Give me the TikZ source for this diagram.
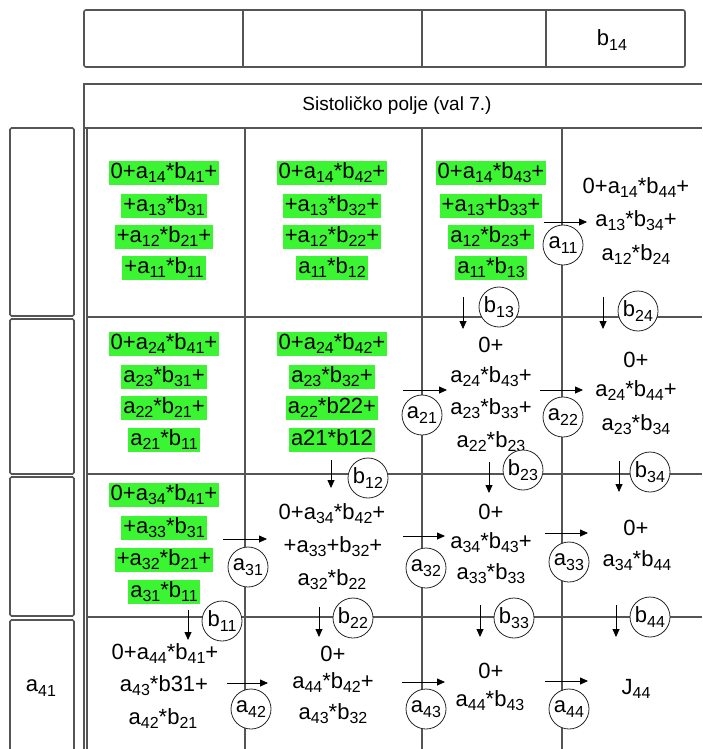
\documentclass[tikz,border=0pt]{standalone}
\usepackage{fontspec}
\setmainfont{Liberation Sans}
\usetikzlibrary{arrows.meta}
\definecolor{hl}{RGB}{60,245,50}
\definecolor{gl}{RGB}{85,85,85}
\newcommand\ix[1]{\raisebox{-0.2em}{\fontsize{16}{16}\selectfont #1}}
\begin{document}
\begin{tikzpicture}[x=1pt,y=-1pt,
 every node/.style={font=\fontsize{22}{24}\selectfont},
 txt/.style={inner xsep=2pt, inner ysep=1.5pt, text height=15.5pt, text depth=5pt},
 hl/.style={txt, fill=hl},
 pe/.style={circle, draw=black!85, fill=white, line width=0.8pt, minimum size=40pt, inner sep=0pt},
 grid/.style={draw=gl, line width=1.6pt},
 arr/.style={-{Triangle[length=8pt,width=7pt]}, line width=0.8pt, black}]
\useasboundingbox (0,0) rectangle (702,749);
% top box
\draw[grid, rounded corners=2pt] (84,10) rectangle (685,67);
\draw[grid] (243,10) -- (243,67) (422,10) -- (422,67) (546,10) -- (546,67);
\node (b14) at (612,40) {b\ix{14}};
% left boxes
\draw[grid, rounded corners=1.5pt] (10,128) rectangle (74,316);
\draw[grid, rounded corners=1.5pt] (10,319) rectangle (74,474);
\draw[grid, rounded corners=1.5pt] (10,477) rectangle (74,616);
\draw[grid, rounded corners=1.5pt] (74,752) -- (74,620) -- (10,620) -- (10,752);
\node (a41) at (41,688) {a\ix{41}};
% systolic array frame
\draw[grid] (702,84) -- (84,84) -- (84,752);
\draw[grid] (87,128) -- (87,752);
\draw[grid] (84,128) -- (702,128);
\foreach \yy in {317,474,617} \draw[grid] (87,\yy) -- (702,\yy);
\foreach \xx in {245,422,562} \draw[grid] (\xx,128) -- (\xx,752);
\node[font=\fontsize{19}{22}\selectfont] (title) at (397,106) {Sistoličko polje (val 7.)};
% row 1
\node[hl] (c11a) at (164,173) {0+a\ix{14}*b\ix{41}+};
\node[hl] (c11b) at (164,206) {+a\ix{13}*b\ix{31}};
\node[hl] (c11c) at (164,237) {+a\ix{12}*b\ix{21}+};
\node[hl] (c11d) at (164,268) {+a\ix{11}*b\ix{11}};
\node[hl] (c12a) at (332,173) {0+a\ix{14}*b\ix{42}+};
\node[hl] (c12b) at (332,206) {+a\ix{13}*b\ix{32}+};
\node[hl] (c12c) at (332,237) {+a\ix{12}*b\ix{22}+};
\node[hl] (c12d) at (332,268) {a\ix{11}*b\ix{12}};
\node[hl] (c13a) at (491,173) {0+a\ix{14}*b\ix{43}+};
\node[hl] (c13b) at (491,206) {+a\ix{13}+b\ix{33}+};
\node[hl] (c13c) at (491,237) {a\ix{12}*b\ix{23}+};
\node[hl] (c13d) at (491,268) {a\ix{11}*b\ix{13}};
\node[txt] (c14a) at (636,188) {0+a\ix{14}*b\ix{44}+};
\node[txt] (c14b) at (636,221) {a\ix{13}*b\ix{34}+};
\node[txt] (c14c) at (636,255) {a\ix{12}*b\ix{24}};
% row 2
\node[hl] (c21a) at (164,344) {0+a\ix{24}*b\ix{41}+};
\node[hl] (c21b) at (164,377) {a\ix{23}*b\ix{31}+};
\node[hl] (c21c) at (164,408) {a\ix{22}*b\ix{21}+};
\node[hl] (c21d) at (164,440) {a\ix{21}*b\ix{11}};
\node[hl] (c22a) at (332,344) {0+a\ix{24}*b\ix{42}+};
\node[hl] (c22b) at (332,377) {a\ix{23}*b\ix{32}+};
\node[hl] (c22c) at (332,408) {a\ix{22}*b22+};
\node[hl] (c22d) at (332,440) {a21*b12};
\node[txt] (c23a) at (491,347) {0+};
\node[txt] (c23b) at (491,377) {a\ix{24}*b\ix{43}+};
\node[txt] (c23c) at (491,409) {a\ix{23}*b\ix{33}+};
\node[txt] (c23d) at (491,442) {a\ix{22}*b\ix{23}};
\node[txt] (c24a) at (636,362) {0+};
\node[txt] (c24b) at (636,391) {a\ix{24}*b\ix{44}+};
\node[txt] (c24c) at (636,425) {a\ix{23}*b\ix{34}};
% row 3
\node[hl] (c31a) at (164,495) {0+a\ix{34}*b\ix{41}+};
\node[hl] (c31b) at (164,528) {+a\ix{33}*b\ix{31}};
\node[hl] (c31c) at (164,560) {+a\ix{32}*b\ix{21}+};
\node[hl] (c31d) at (164,592) {a\ix{31}*b\ix{11}};
\node[txt] (c32a) at (332,514) {0+a\ix{34}*b\ix{42}+};
\node[txt] (c32b) at (333,547) {+a\ix{33}+b\ix{32}+};
\node[txt] (c32c) at (332,580) {a\ix{32}*b\ix{22}};
\node[txt] (c33a) at (491,514) {0+};
\node[txt] (c33b) at (491,543) {a\ix{34}*b\ix{43}+};
\node[txt] (c33c) at (491,574) {a\ix{33}*b\ix{33}};
\node[txt] (c34a) at (636,530) {0+};
\node[txt] (c34b) at (637,561) {a\ix{34}*b\ix{44}};
% row 4
\node[txt] (c41a) at (165,654) {0+a\ix{44}*b\ix{41}+};
\node[txt] (c41b) at (164,686) {a\ix{43}*b31+};
\node[txt] (c41c) at (163,719) {a\ix{42}*b\ix{21}};
\node[txt] (c42a) at (333,656) {0+};
\node[txt] (c42b) at (333,683) {a\ix{44}*b\ix{42}+};
\node[txt] (c42c) at (333,714) {a\ix{43}*b\ix{32}};
\node[txt] (c43a) at (491,673) {0+};
\node[txt] (c43b) at (490,701) {a\ix{44}*b\ix{43}};
\node[txt] (c44a) at (636,689) {J\ix{44}};
% a circles (moving right)
\node[pe] (a11) at (563,245) {a\ix{11}};
\node[pe] (a21) at (422,415) {a\ix{21}};
\node[pe] (a22) at (563,417) {a\ix{22}};
\node[pe] (a31) at (248,567) {a\ix{31}};
\node[pe] (a32) at (426,568) {a\ix{32}};
\node[pe] (a33) at (569,562) {a\ix{33}};
\node[pe] (a42) at (251,709) {a\ix{42}};
\node[pe] (a43) at (426,709) {a\ix{43}};
\node[pe] (a44) at (569,709) {a\ix{44}};
\draw[arr] ([shift={(-19,-23)}]a11.center) -- ([shift={(24,-23)}]a11.center);
\draw[arr] ([shift={(-19,-25)}]a21.center) -- ([shift={(25,-25)}]a21.center);
\draw[arr] ([shift={(-23,-27)}]a22.center) -- ([shift={(20,-27)}]a22.center);
\draw[arr] ([shift={(-25,-28)}]a31.center) -- ([shift={(19,-28)}]a31.center);
\draw[arr] ([shift={(-23,-32)}]a32.center) -- ([shift={(19,-32)}]a32.center);
\draw[arr] ([shift={(-24,-29)}]a33.center) -- ([shift={(19,-29)}]a33.center);
\draw[arr] ([shift={(-24,-26)}]a42.center) -- ([shift={(17,-26)}]a42.center);
\draw[arr] ([shift={(-24,-27)}]a43.center) -- ([shift={(19,-27)}]a43.center);
\draw[arr] ([shift={(-24,-28)}]a44.center) -- ([shift={(19,-28)}]a44.center);
% b circles (moving down)
\node[pe] (b13) at (499,307) {b\ix{13}};
\node[pe] (b24) at (638,311) {b\ix{24}};
\node[pe] (b12) at (368,478) {b\ix{12}};
\node[pe] (b23) at (523,470) {b\ix{23}};
\node[pe] (b34) at (650,472) {b\ix{34}};
\node[pe] (b11) at (222,621) {b\ix{11}};
\node[pe] (b22) at (353,618) {b\ix{22}};
\node[pe] (b33) at (514,618) {b\ix{33}};
\node[pe] (b44) at (650,617) {b\ix{44}};
\draw[arr] ([shift={(-36,-10)}]b13.center) -- ([shift={(-36,22)}]b13.center);
\draw[arr] ([shift={(-35,-14)}]b24.center) -- ([shift={(-35,18)}]b24.center);
\draw[arr] ([shift={(-37,-18)}]b12.center) -- ([shift={(-37,10)}]b12.center);
\draw[arr] ([shift={(-34,-8)}]b23.center) -- ([shift={(-34,23)}]b23.center);
\draw[arr] ([shift={(-31,-11)}]b34.center) -- ([shift={(-31,20)}]b34.center);
\draw[arr] ([shift={(-34,-11)}]b11.center) -- ([shift={(-34,19)}]b11.center);
\draw[arr] ([shift={(-34,-11)}]b22.center) -- ([shift={(-34,19)}]b22.center);
\draw[arr] ([shift={(-34,-13)}]b33.center) -- ([shift={(-34,19)}]b33.center);
\draw[arr] ([shift={(-34,-12)}]b44.center) -- ([shift={(-34,20)}]b44.center);
\end{tikzpicture}
\end{document}
